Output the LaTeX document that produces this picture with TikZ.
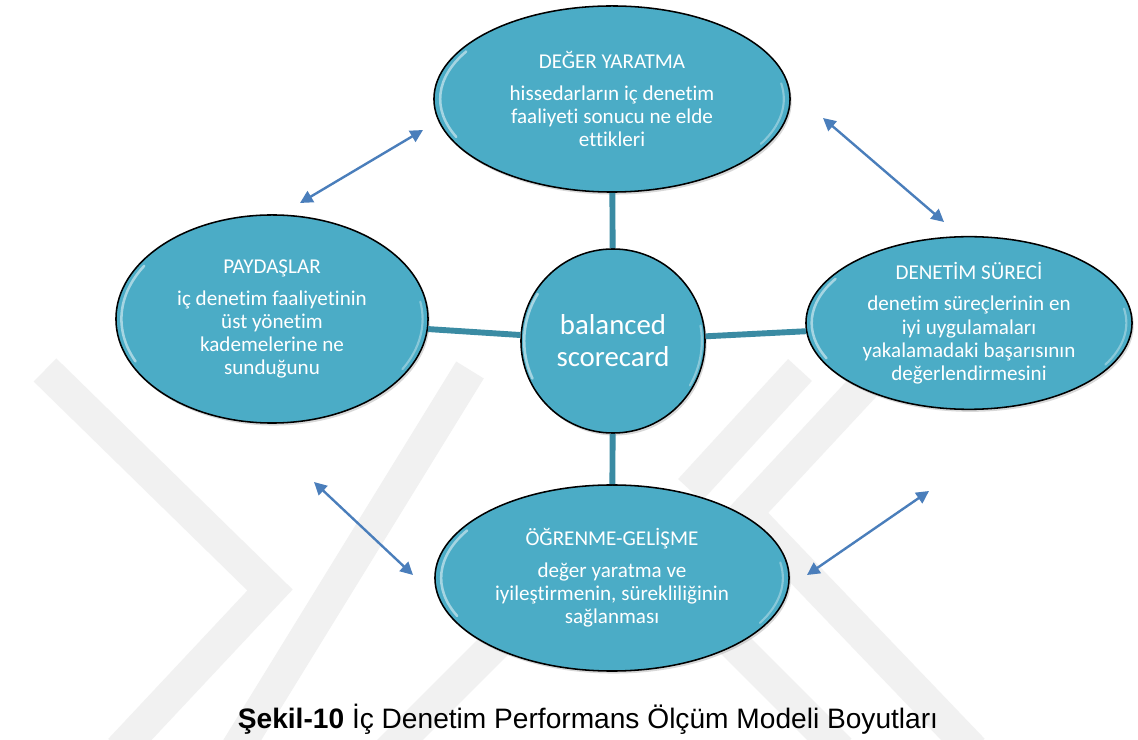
\documentclass[tikz,border=0pt]{standalone}
\usepackage{fontspec}
\setmainfont{Carlito}[Ligatures=NoCommon]
\newfontfamily\captionfont{Liberation Sans}
\usetikzlibrary{shapes.geometric,shadows,arrows.meta,calc}

\definecolor{aqua}{HTML}{4BACC6}
\definecolor{linkteal}{HTML}{3A8BA3}
\definecolor{arrowblue}{HTML}{4A7EBB}
\definecolor{marka}{HTML}{F1F1F1}

\tikzset{
  gloss/.style={path picture={
      \draw[white, opacity=0.5, line width=1.8pt, line cap=round]
        let \p1=(path picture bounding box.north east), \p2=(path picture bounding box.center),
            \n1={0.965*(\x1-\x2)}, \n2={0.965*(\y1-\y2)} in
        ([shift={(148:\n1 and \n2)}]\p2) arc[start angle=148, end angle=205, x radius=\n1, y radius=\n2];
      \draw[white, opacity=0.35, line width=1.5pt, line cap=round]
        let \p1=(path picture bounding box.north east), \p2=(path picture bounding box.center),
            \n1={0.965*(\x1-\x2)}, \n2={0.965*(\y1-\y2)} in
        ([shift={(-30:\n1 and \n2)}]\p2) arc[start angle=-30, end angle=10, x radius=\n1, y radius=\n2];
    }},
  dim/.style={ellipse, draw=black, line width=1.1pt, fill=aqua, text=white, align=center, inner sep=0pt,
    drop shadow={opacity=0.3, shadow xshift=1.2pt, shadow yshift=-1.8pt}, gloss,
    font=\fontsize{15}{16.5}\selectfont},
  hub/.style={dim, circle, minimum size=4.6cm, font=\fontsize{20.5}{22.8}\selectfont},
  link/.style={draw=linkteal, line width=4.2pt},
  twoway/.style={draw=arrowblue, line width=1.7pt, {Triangle[length=9pt,width=9pt]}-{Triangle[length=9pt,width=9pt]}},
  band/.style={draw=marka, line width=23pt}
}

\begin{document}
\begin{tikzpicture}[x=0.025cm, y=-0.025cm]
  \useasboundingbox (0,0) rectangle (1138,740);
  \fill[white] (0,0) rectangle (1138,740);

  % watermark
  \begin{scope}
    \clip (0,0) rectangle (1138,740);
    \draw[band] (45,370) -- (270,590) -- (120,750);
    \draw[band] (230,760) -- (470,370);
    \draw[band] (380,760) -- (580,560);
    \draw[band] (879,370) -- (746,513) -- (973,750);
    \draw[band] (800,370) -- (690,490);
    \draw[band] (690,600) -- (840,750);
  \end{scope}

  \node[dim, minimum width=8.9cm, minimum height=4.65cm] (deger) at (612,99)
    {DEĞER YARATMA\\[6pt]hissedarların iç denetim\\faaliyeti sonucu ne elde\\ettikleri};
  \node[dim, minimum width=7.8cm, minimum height=5.2cm] (paydas) at (272,319)
    {PAYDAŞLAR\\[6pt]iç denetim faaliyetinin\\üst yönetim\\kademelerine ne\\sunduğunu};
  \node[dim, minimum width=8.15cm, minimum height=4.15cm] (surec) at (969,323)
    {DENETİM SÜRECİ\\[6pt]denetim süreçlerinin en\\iyi uygulamaları\\yakalamadaki başarısının\\değerlendirmesini};
  \node[dim, minimum width=8.85cm, minimum height=4.65cm] (ogrenme) at (612,578)
    {ÖĞRENME-GELİŞME\\[6pt]değer yaratma ve\\iyileştirmenin, sürekliliğinin\\sağlanması};
  \node[hub] (bsc) at (613,341) {balanced\\scorecard};

  \draw[link] (deger) -- (bsc);
  \draw[link] (paydas) -- (bsc);
  \draw[link] (bsc) -- (surec);
  \draw[link] (bsc) -- (ogrenme);

  \coordinate (ulA) at (300,203);
  \coordinate (ulB) at (423,130);
  \coordinate (urA) at (823,118);
  \coordinate (urB) at (944,222);
  \coordinate (llA) at (314,482);
  \coordinate (llB) at (413,575);
  \coordinate (lrA) at (807,575);
  \coordinate (lrB) at (929,491);
  \draw[twoway] (ulA) -- (ulB);
  \draw[twoway] (urA) -- (urB);
  \draw[twoway] (llA) -- (llB);
  \draw[twoway] (lrA) -- (lrB);

  \node[font=\captionfont\fontsize{20}{24}\selectfont, anchor=base] (sekil) at (588,728)
    {\textbf{Şekil-10} İç Denetim Performans Ölçüm Modeli Boyutları};
\end{tikzpicture}
\end{document}
